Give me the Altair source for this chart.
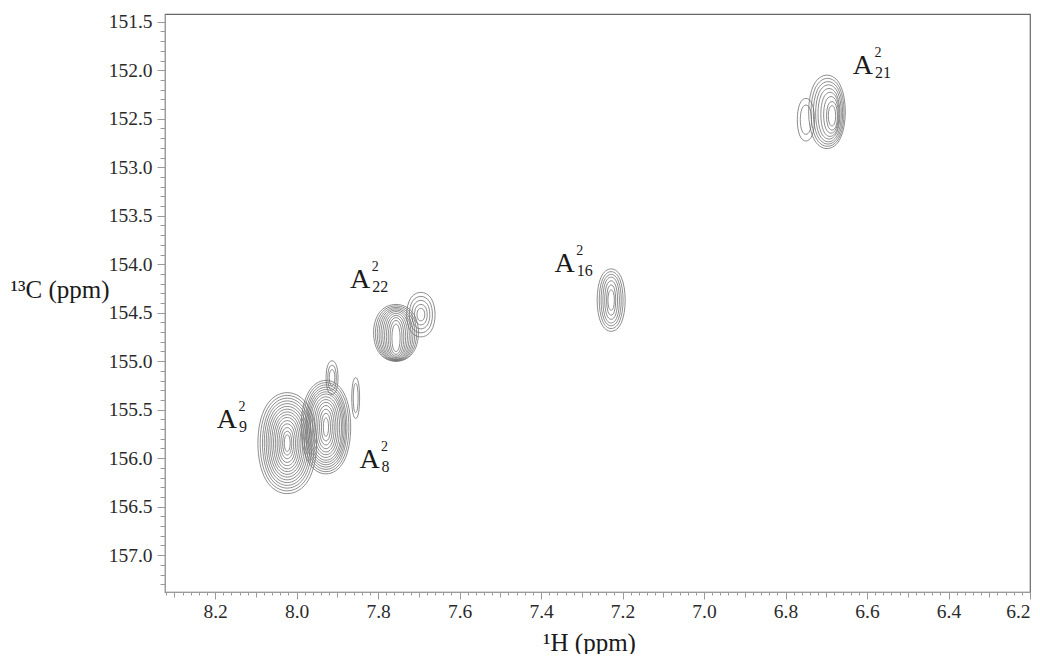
import numpy as np
import pandas as pd
import altair as alt

# ---------------- data ----------------
# contour groups (peak / shoulder): centre in 1H ppm and 13C ppm
grp = ["A9", "A8", "A8s", "A8t", "A22", "A22s", "A16", "A21", "A21s"]
grp_h = [8.023, 7.928, 7.913, 7.855, 7.756, 7.695, 7.228, 6.686, 6.750]
grp_c = [155.845, 155.68, 155.17, 155.38, 154.76, 154.52, 154.37, 152.47, 152.51]

# half-widths of each contour ring (outer -> inner), ppm
ring_dh = {
    "A9": [0.0785, 0.0724, 0.0663, 0.0614, 0.0564, 0.0515, 0.0466, 0.0417, 0.0368, 0.0319, 0.0270, 0.0221, 0.0172, 0.0123, 0.0079],
    "A8": [0.0663, 0.0614, 0.0564, 0.0528, 0.0491, 0.0454, 0.0417, 0.0368, 0.0319, 0.0270, 0.0221, 0.0172, 0.0123, 0.0070],
    "A8s": [0.0160, 0.0115, 0.0074],
    "A8t": [0.0105, 0.0065],
    "A22": [0.0601, 0.0552, 0.0503, 0.0454, 0.0405, 0.0356, 0.0307, 0.0258, 0.0209, 0.0160, 0.0110],
    "A22s": [0.0380, 0.0310, 0.0240, 0.0170, 0.0105],
    "A16": [0.0375, 0.0319, 0.0270, 0.0221, 0.0172, 0.0123, 0.0086],
    "A21": [0.0491, 0.0442, 0.0393, 0.0344, 0.0294, 0.0245, 0.0196, 0.0147, 0.0098],
    "A21s": [0.0230, 0.0150],
}
ring_dc = {
    "A9": [0.568, 0.537, 0.506, 0.475, 0.444, 0.413, 0.382, 0.351, 0.320, 0.289, 0.253, 0.217, 0.175, 0.134, 0.093],
    "A8": [0.526, 0.501, 0.475, 0.449, 0.423, 0.397, 0.372, 0.341, 0.310, 0.279, 0.243, 0.201, 0.155, 0.103],
    "A8s": [0.190, 0.140, 0.090],
    "A8t": [0.230, 0.165],
    "A22": [0.320, 0.310, 0.299, 0.289, 0.279, 0.268, 0.253, 0.237, 0.217, 0.191, 0.155],
    "A22s": [0.250, 0.205, 0.160, 0.115, 0.070],
    "A16": [0.351, 0.320, 0.289, 0.258, 0.217, 0.170, 0.114],
    "A21": [0.413, 0.382, 0.351, 0.320, 0.284, 0.248, 0.206, 0.160, 0.114],
    "A21s": [0.240, 0.165],
}
# drift of ring centres (ppm) where the outer contours are off-centre
ring_sh = {
    "A21": [0.0123, 0.0110, 0.0098, 0.0086, 0.0074, 0.0049, 0.0025, 0.0, 0.0],
}
ring_sc = {
    "A21": [-0.041, -0.036, -0.031, -0.026, -0.021, -0.015, -0.010, 0.0, 0.0],
    "A22": [-0.052, -0.046, -0.041, -0.036, -0.031, -0.026, -0.021, -0.015, -0.010, -0.005, 0.0],
}

# peak labels  A^2_n  (anchor = centre/baseline of the "A")
lab_sub = ["21", "16", "22", "9", "8"]
lab_h = [6.610, 7.342, 7.844, 8.171, 7.821]
lab_c = [152.04, 154.08, 154.245, 155.69, 156.10]

# axis ticks
x_major = [8.2, 8.0, 7.8, 7.6, 7.4, 7.2, 7.0, 6.8, 6.6, 6.4, 6.2]
y_major = [151.5, 152.0, 152.5, 153.0, 153.5, 154.0, 154.5, 155.0, 155.5, 156.0, 156.5, 157.0]
x_ticks = sorted(set(np.round(np.arange(6.20, 8.321, 0.02), 2).tolist()) | set(x_major))
y_ticks = sorted(set(np.round(np.arange(151.5, 157.31, 0.1), 1).tolist()) | set(y_major))

# ---------------- build ring outlines ----------------
corners = [(-1, -1), (1, -1), (1, 1), (-1, 1)]
rows = []
for g, h0, c0 in zip(grp, grp_h, grp_c):
    dhs, dcs = ring_dh[g], ring_dc[g]
    shs = ring_sh.get(g, [0.0] * len(dhs))
    scs = ring_sc.get(g, [0.0] * len(dhs))
    for k, (dh, dc, sh, sc) in enumerate(zip(dhs, dcs, shs, scs)):
        for v, (sx, sy) in enumerate(corners):
            rows.append({"ring": f"{g}_{k}", "v": v,
                         "H": h0 + sh + sx * dh, "C": c0 + sc + sy * dc})
ring_df = pd.DataFrame(rows)

lab_df = pd.DataFrame({"H": lab_h, "C": lab_c, "sub": lab_sub,
                       "A": ["A"] * len(lab_sub), "sup": ["2"] * len(lab_sub)})

# ---------------- scales / axes ----------------
SERIF = "Liberation Serif"
LABEL_SIZE = {"condition": {"test": "datum.value == datum.value", "value": 19.5}, "value": 19.5}
x_scale = alt.Scale(domain=[6.2, 8.323], reverse=True, nice=False, zero=False)
y_scale = alt.Scale(domain=[151.42, 157.38], reverse=True, nice=False, zero=False)

x_is_major = "abs(datum.value*5 - round(datum.value*5)) < 0.001"
x_is_mid = "abs(datum.value*10 - round(datum.value*10)) < 0.001"
y_is_major = "abs(datum.value*2 - round(datum.value*2)) < 0.001"

x_axis = alt.Axis(
    values=x_ticks, title="¹H (ppm)", grid=False,
    labelExpr=f"{x_is_major} ? format(datum.value, '.1f') : ''",
    tickSize={"condition": [{"test": x_is_major, "value": 7},
                            {"test": x_is_mid, "value": 5}], "value": 3},
    labelAlign={"condition": {"test": "datum.value < 6.21", "value": "right"}, "value": "center"},
    labelOverlap=False, labelFlush=False, labelPadding=3,
    labelFont=SERIF, labelFontSize=LABEL_SIZE, labelColor="#2a2a2a",
    domainColor="#9a9a9a", tickColor="#9a9a9a",
    titleFont=SERIF, titleFontSize=25, titleFontWeight="normal", titleColor="#1a1a1a",
    titleX=424, titleY=58, titleAlign="center", titleBaseline="alphabetic",
)
y_axis = alt.Axis(
    values=y_ticks, title="¹³C (ppm)", grid=False,
    labelExpr=f"{y_is_major} ? format(datum.value, '.1f') : ''",
    tickSize={"condition": {"test": y_is_major, "value": 8}, "value": 5},
    labelOverlap=False, labelFlush=False, labelPadding=5,
    labelFont=SERIF, labelFontSize=LABEL_SIZE, labelColor="#2a2a2a",
    domainColor="#9a9a9a", tickColor="#9a9a9a",
    titleFont=SERIF, titleFontSize=25, titleFontWeight="normal", titleColor="#1a1a1a",
    titleAngle=0, titleX=-155, titleY=283, titleAlign="left", titleBaseline="alphabetic",
)
X = alt.X("H:Q", scale=x_scale, axis=x_axis)
Y = alt.Y("C:Q", scale=y_scale, axis=y_axis)

contours = alt.Chart(ring_df).mark_line(
    interpolate="basis-closed", color="#707070", strokeWidth=0.8
).encode(x=X, y=Y, detail="ring:N", order="v:Q")

a_txt = alt.Chart(lab_df).mark_text(
    font=SERIF, fontSize=28, color="#1a1a1a", align="center", baseline="alphabetic"
).encode(x=X, y=Y, text="A:N")
sup_txt = alt.Chart(lab_df).mark_text(
    font=SERIF, fontSize=14, color="#1a1a1a", align="center", baseline="alphabetic", dx=15, dy=-17
).encode(x=X, y=Y, text="sup:N")
sub_txt = alt.Chart(lab_df).mark_text(
    font=SERIF, fontSize=16, color="#1a1a1a", align="left", baseline="alphabetic", dx=12, dy=4
).encode(x=X, y=Y, text="sub:N")

chart = alt.layer(contours, a_txt, sup_txt, sub_txt).properties(
    width=865, height=578,
    padding={"left": 157, "top": 6, "right": 2, "bottom": 62},
    autosize=alt.AutoSizeParams(type="none"),
).configure(
    font=SERIF
).configure_view(
    stroke="#666", strokeWidth=1.2
)

chart.save("out.html", embed_options={"renderer": "svg", "actions": False})
